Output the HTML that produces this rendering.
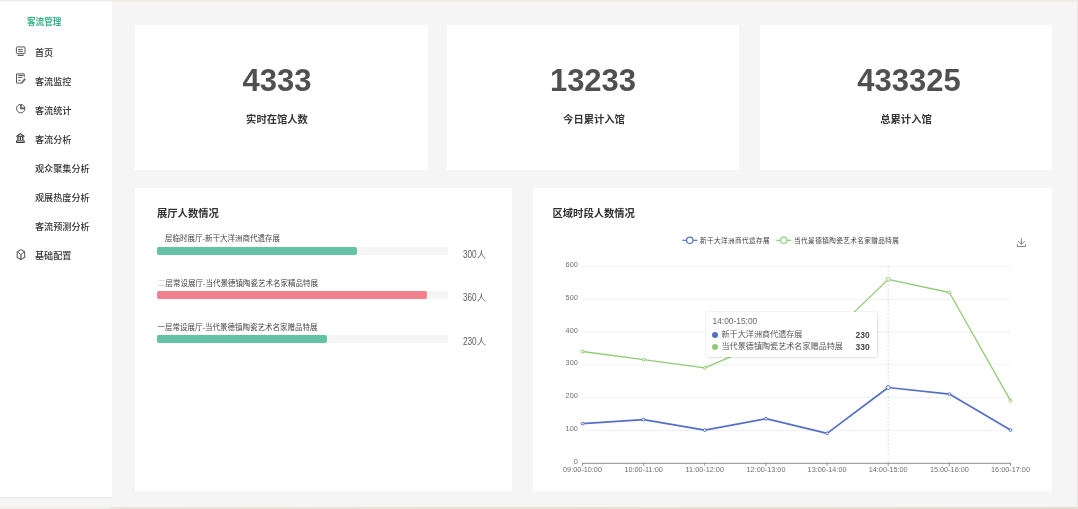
<!DOCTYPE html>
<html lang="zh-CN">
<head>
<meta charset="utf-8">
<title>客流管理</title>
<style>
html,body{margin:0;padding:0}
body{width:1078px;height:509px;overflow:hidden;position:relative;background:#f5f5f5;
font-family:"Liberation Sans","Noto Sans CJK SC",sans-serif;color:#333}
.a{position:absolute;white-space:nowrap}
.strip-top{left:0;top:0;width:1078px;height:1px;background:#f2ebe1}
.strip-bot{left:0;top:507px;width:1078px;height:2px;background:linear-gradient(90deg,#f2f0ea 0,#f2f0ea 110px,#ebe3d7 111px,#e6ddcf 100%)}
.strip-right{left:1077px;top:0;width:1px;height:509px;background:#efe7dc}
.side{left:0;top:2px;width:112px;height:495px;background:#fff;border-bottom:1px solid #e8e8e8}
.card{background:#fff}
.logo{left:27px;top:16px;font-size:8.6px;line-height:12px;color:#36b588;font-weight:bold;letter-spacing:0}
.mi{left:35px;font-size:9.1px;line-height:12px;color:#333;font-weight:500}
.num{font-size:31px;line-height:36px;font-weight:bold;color:#505050;text-align:center}
.lbl{font-size:10.3px;line-height:14px;font-weight:bold;color:#363636;text-align:center}
.ptitle{font-size:10.3px;line-height:14px;font-weight:bold;color:#303030}
.blbl{font-size:7.5px;line-height:10px;color:#444}
.track{background:#f5f5f5;border-radius:2px 0 0 2px;height:8.3px}
.bar{border-radius:2px;height:8.3px}
.bval{font-size:9.3px;line-height:11px;color:#5e5e5e}
.dg{display:inline-block;transform:scale(.88,1.08);transform-origin:0 80%;margin-right:-1.9px}
</style>
</head>
<body>
<div class="a strip-top"></div>
<div class="a strip-right"></div>
<div class="a" style="left:0;top:1px;width:112px;height:1px;background:#f1f2f8"></div>
<div class="a" style="left:112px;top:1px;width:965px;height:1px;background:#eeeeee"></div>
<div class="a strip-bot"></div>

<!-- sidebar -->
<div class="a side"></div>
<div class="a logo">客流管理</div>

<svg class="a" style="left:0;top:0" width="112" height="270" viewBox="0 0 112 270" fill="none" stroke="#5a5a5a" stroke-width="1">
  <!-- monitor -->
  <rect x="16.4" y="46.9" width="8.6" height="6.7" rx="0.8"/>
  <line x1="18.1" y1="49.4" x2="22.8" y2="49.4"/>
  <line x1="18.1" y1="51.4" x2="22.8" y2="51.4"/>
  <path d="M17.6 55.4 H23.6" stroke-width="1.2"/>
  <!-- document -->
  <path d="M24.2 77.2 V73.9 H16.5 V83 H21.2"/>
  <line x1="18.2" y1="75.5" x2="23.3" y2="75.5"/>
  <line x1="18.2" y1="77.5" x2="22.2" y2="77.5"/>
  <line x1="18.2" y1="80.3" x2="20.6" y2="80.3"/>
  <path d="M24.6 78.6 L21.6 82.3 L21.2 83.5 L22.4 83.1 L25.3 79.4 Z" fill="#5a5a5a" stroke-width="0.6"/>
  <!-- pie -->
  <circle cx="20.7" cy="108.6" r="4.2"/>
  <path d="M20.9 104.4 V108.4 H24.9" stroke-width="1.6"/>
  <!-- bank -->
  <g stroke="#383838"><path d="M16.8 136.2 L20.4 133.6 L24.1 136.2 Z" stroke-width="1.1" stroke-linejoin="round"/>
  <line x1="17.9" y1="136.6" x2="17.9" y2="140.2" stroke-width="1.3"/>
  <line x1="20.4" y1="136.6" x2="20.4" y2="140.2" stroke-width="1.3"/>
  <line x1="22.8" y1="136.6" x2="22.8" y2="140.2" stroke-width="1.3"/>
  <rect x="16.6" y="140.9" width="7.6" height="1.6" stroke-width="1"/></g>
  <!-- cube -->
  <path d="M20.9 249.6 L24.6 251.7 L24.8 257.2 L20.9 259.6 L17.1 257.2 L17.2 251.7 Z" stroke-width="1.05" stroke-linejoin="round"/>
  <path d="M17.6 251.9 L20.9 254.6 L24.2 251.9" stroke-width="0.9"/>
  <path d="M20.9 254.6 V259.4" stroke-width="1.3"/>
</svg>

<div class="a mi" style="top:46.5px">首页</div>
<div class="a mi" style="top:75.5px">客流监控</div>
<div class="a mi" style="top:104.5px">客流统计</div>
<div class="a mi" style="top:133.5px">客流分析</div>
<div class="a mi" style="top:162.5px">观众聚集分析</div>
<div class="a mi" style="top:191.5px">观展热度分析</div>
<div class="a mi" style="top:220.5px">客流预测分析</div>
<div class="a mi" style="top:249.5px">基础配置</div>

<!-- stat cards -->
<div class="a card" style="left:135px;top:25px;width:293px;height:145px"></div>
<div class="a card" style="left:447px;top:25px;width:292px;height:145px"></div>
<div class="a card" style="left:760px;top:25px;width:291.5px;height:145px"></div>

<div class="a num" style="left:177px;top:62.7px;width:200px">4333</div>
<div class="a lbl" style="left:177px;top:113.2px;width:200px">实时在馆人数</div>
<div class="a num" style="left:493px;top:62.7px;width:200px">13233</div>
<div class="a lbl" style="left:494px;top:113.2px;width:200px">今日累计入馆</div>
<div class="a num" style="left:809px;top:62.7px;width:200px">433325</div>
<div class="a lbl" style="left:806px;top:113.2px;width:200px">总累计入馆</div>

<!-- bottom panels -->
<div class="a card" style="left:135px;top:188px;width:377px;height:303px"></div>
<div class="a card" style="left:533px;top:188px;width:518.5px;height:303px"></div>

<div class="a ptitle" style="left:157px;top:207.4px">展厅人数情况</div>

<div class="a blbl" style="left:165px;top:233.7px">层临时展厅-新干大洋洲商代遗存展</div>
<div class="a track" style="left:156.5px;top:247px;width:291.7px"></div>
<div class="a bar" style="left:156.5px;top:247px;width:200.5px;background:#64c3a5"></div>
<div class="a bval" style="left:463px;top:250.3px"><span class="dg">300</span>人</div>

<div class="a blbl" style="left:158px;top:278.7px"><span style="color:#bbb">二</span>层常设展厅-当代景德镇陶瓷艺术名家精品特展</div>
<div class="a track" style="left:156.5px;top:291.2px;width:291.7px"></div>
<div class="a bar" style="left:156.5px;top:291.2px;width:270.3px;background:#f2818e"></div>
<div class="a bval" style="left:463px;top:292.9px"><span class="dg">360</span>人</div>

<div class="a blbl" style="left:157.5px;top:322.8px">一层常设展厅-当代景德镇陶瓷艺术名家赠品特展</div>
<div class="a track" style="left:156.5px;top:334.6px;width:291.7px"></div>
<div class="a bar" style="left:156.5px;top:334.6px;width:170.1px;background:#64c3a5"></div>
<div class="a bval" style="left:463px;top:336.6px"><span class="dg">230</span>人</div>

<div class="a ptitle" style="left:552.5px;top:207.4px">区域时段人数情况</div>

<!-- CHART -->
<svg id="chart" class="a" style="left:0;top:0" width="1078" height="509" viewBox="0 0 1078 509">
<line x1="582.5" y1="430.43" x2="1010.5" y2="430.43" stroke="#e3e8f1" stroke-width="0.6"/>
<line x1="582.5" y1="397.66" x2="1010.5" y2="397.66" stroke="#e3e8f1" stroke-width="0.6"/>
<line x1="582.5" y1="364.89" x2="1010.5" y2="364.89" stroke="#e3e8f1" stroke-width="0.6"/>
<line x1="582.5" y1="332.12" x2="1010.5" y2="332.12" stroke="#e3e8f1" stroke-width="0.6"/>
<line x1="582.5" y1="299.35" x2="1010.5" y2="299.35" stroke="#e3e8f1" stroke-width="0.6"/>
<line x1="582.5" y1="266.58" x2="1010.5" y2="266.58" stroke="#e3e8f1" stroke-width="0.6"/>
<text x="577.8" y="463.7" text-anchor="end" font-size="7.3" fill="#6e7079" font-family="Liberation Sans, Noto Sans CJK SC, sans-serif">0</text>
<text x="577.8" y="430.9" text-anchor="end" font-size="7.3" fill="#6e7079" font-family="Liberation Sans, Noto Sans CJK SC, sans-serif">100</text>
<text x="577.8" y="398.2" text-anchor="end" font-size="7.3" fill="#6e7079" font-family="Liberation Sans, Noto Sans CJK SC, sans-serif">200</text>
<text x="577.8" y="365.4" text-anchor="end" font-size="7.3" fill="#6e7079" font-family="Liberation Sans, Noto Sans CJK SC, sans-serif">300</text>
<text x="577.8" y="332.6" text-anchor="end" font-size="7.3" fill="#6e7079" font-family="Liberation Sans, Noto Sans CJK SC, sans-serif">400</text>
<text x="577.8" y="299.8" text-anchor="end" font-size="7.3" fill="#6e7079" font-family="Liberation Sans, Noto Sans CJK SC, sans-serif">500</text>
<text x="577.8" y="267.1" text-anchor="end" font-size="7.3" fill="#6e7079" font-family="Liberation Sans, Noto Sans CJK SC, sans-serif">600</text>
<line x1="888.2" y1="266.3" x2="888.2" y2="462.9" stroke="#c3c8d3" stroke-width="0.7" stroke-dasharray="1.6 2"/>
<line x1="582.5" y1="463.3" x2="1010.5" y2="463.3" stroke="#6e7079" stroke-width="0.8"/>
<line x1="582.5" y1="462.9" x2="582.5" y2="465.9" stroke="#6e7079" stroke-width="0.7"/>
<text x="582.5" y="472.2" text-anchor="middle" font-size="7.3" fill="#6e7079" font-family="Liberation Sans, Noto Sans CJK SC, sans-serif">09:00-10:00</text>
<line x1="643.6" y1="462.9" x2="643.6" y2="465.9" stroke="#6e7079" stroke-width="0.7"/>
<text x="643.6" y="472.2" text-anchor="middle" font-size="7.3" fill="#6e7079" font-family="Liberation Sans, Noto Sans CJK SC, sans-serif">10:00-11:00</text>
<line x1="704.8" y1="462.9" x2="704.8" y2="465.9" stroke="#6e7079" stroke-width="0.7"/>
<text x="704.8" y="472.2" text-anchor="middle" font-size="7.3" fill="#6e7079" font-family="Liberation Sans, Noto Sans CJK SC, sans-serif">11:00-12:00</text>
<line x1="766.0" y1="462.9" x2="766.0" y2="465.9" stroke="#6e7079" stroke-width="0.7"/>
<text x="766.0" y="472.2" text-anchor="middle" font-size="7.3" fill="#6e7079" font-family="Liberation Sans, Noto Sans CJK SC, sans-serif">12:00-13:00</text>
<line x1="827.1" y1="462.9" x2="827.1" y2="465.9" stroke="#6e7079" stroke-width="0.7"/>
<text x="827.1" y="472.2" text-anchor="middle" font-size="7.3" fill="#6e7079" font-family="Liberation Sans, Noto Sans CJK SC, sans-serif">13:00-14:00</text>
<line x1="888.2" y1="462.9" x2="888.2" y2="465.9" stroke="#6e7079" stroke-width="0.7"/>
<text x="888.2" y="472.2" text-anchor="middle" font-size="7.3" fill="#6e7079" font-family="Liberation Sans, Noto Sans CJK SC, sans-serif">14:00-15:00</text>
<line x1="949.4" y1="462.9" x2="949.4" y2="465.9" stroke="#6e7079" stroke-width="0.7"/>
<text x="949.4" y="472.2" text-anchor="middle" font-size="7.3" fill="#6e7079" font-family="Liberation Sans, Noto Sans CJK SC, sans-serif">15:00-16:00</text>
<line x1="1010.5" y1="462.9" x2="1010.5" y2="465.9" stroke="#6e7079" stroke-width="0.7"/>
<text x="1010.5" y="472.2" text-anchor="middle" font-size="7.3" fill="#6e7079" font-family="Liberation Sans, Noto Sans CJK SC, sans-serif">16:00-17:00</text>
<polyline points="582.5,351.5 643.6,359.7 704.8,367.9 766.0,341.7 827.1,338.4 888.2,279.4 949.4,292.5 1010.5,400.6" fill="none" stroke="#91cc75" stroke-width="1.3" stroke-linejoin="round"/>
<circle cx="582.5" cy="351.5" r="1.4" fill="#fff" stroke="#91cc75" stroke-width="1"/>
<circle cx="643.6" cy="359.7" r="1.4" fill="#fff" stroke="#91cc75" stroke-width="1"/>
<circle cx="704.8" cy="367.9" r="1.4" fill="#fff" stroke="#91cc75" stroke-width="1"/>
<circle cx="766.0" cy="341.7" r="1.4" fill="#fff" stroke="#91cc75" stroke-width="1"/>
<circle cx="827.1" cy="338.4" r="1.4" fill="#fff" stroke="#91cc75" stroke-width="1"/>
<circle cx="888.2" cy="279.4" r="2.0" fill="#fff" stroke="#91cc75" stroke-width="1"/>
<circle cx="949.4" cy="292.5" r="1.4" fill="#fff" stroke="#91cc75" stroke-width="1"/>
<circle cx="1010.5" cy="400.6" r="1.4" fill="#fff" stroke="#91cc75" stroke-width="1"/>
<polyline points="582.5,423.6 643.6,419.6 704.8,430.1 766.0,418.7 827.1,433.4 888.2,387.5 949.4,394.1 1010.5,430.1" fill="none" stroke="#5470c6" stroke-width="1.7" stroke-linejoin="round"/>
<circle cx="582.5" cy="423.6" r="1.4" fill="#fff" stroke="#5470c6" stroke-width="1"/>
<circle cx="643.6" cy="419.6" r="1.4" fill="#fff" stroke="#5470c6" stroke-width="1"/>
<circle cx="704.8" cy="430.1" r="1.4" fill="#fff" stroke="#5470c6" stroke-width="1"/>
<circle cx="766.0" cy="418.7" r="1.4" fill="#fff" stroke="#5470c6" stroke-width="1"/>
<circle cx="827.1" cy="433.4" r="1.4" fill="#fff" stroke="#5470c6" stroke-width="1"/>
<circle cx="888.2" cy="387.5" r="2.0" fill="#fff" stroke="#5470c6" stroke-width="1"/>
<circle cx="949.4" cy="394.1" r="1.4" fill="#fff" stroke="#5470c6" stroke-width="1"/>
<circle cx="1010.5" cy="430.1" r="1.4" fill="#fff" stroke="#5470c6" stroke-width="1"/>
<line x1="682.3" y1="240.3" x2="697.3" y2="240.3" stroke="#5470c6" stroke-width="1.2"/>
<circle cx="689.8" cy="240.3" r="3.2" fill="#fff" stroke="#5470c6" stroke-width="1.2"/>
<text x="700" y="242.8" font-size="6.6" letter-spacing="0.42" fill="#3a3a3a" font-family="Liberation Sans, Noto Sans CJK SC, sans-serif">新干大洋洲商代遗存展</text>
<line x1="776.3" y1="240.3" x2="791.3" y2="240.3" stroke="#91cc75" stroke-width="1.2"/>
<circle cx="783.8" cy="240.3" r="3.2" fill="#fff" stroke="#91cc75" stroke-width="1.2"/>
<text x="794.1" y="242.8" font-size="6.6" letter-spacing="0.42" fill="#3a3a3a" font-family="Liberation Sans, Noto Sans CJK SC, sans-serif">当代景德镇陶瓷艺术名家赠品特展</text>
<g fill="none" stroke="#666" stroke-width="0.8"><path d="M1021.4 238.2 V244.3 M1018 241.2 L1021.4 244.3 L1024.8 241.2 M1017.3 244.2 V246.5 H1025.5 V244.2"/></g>
</svg>

<!-- tooltip -->
<div class="a" style="left:705.5px;top:311.5px;width:171.5px;height:45.5px;background:#fff;border-radius:2.5px;box-shadow:0 0 0 0.6px rgba(0,0,0,0.07),1px 1px 3px rgba(0,0,0,0.09)"></div>
<div class="a" style="left:712.5px;top:316px;font-size:8.4px;line-height:10px;color:#666">14:00-15:00</div>
<div class="a" style="left:712px;top:331.8px;width:6px;height:6px;border-radius:3px;background:#5470c6"></div>
<div class="a" style="left:721.5px;top:329.5px;font-size:8.1px;line-height:10px;color:#555">新干大洋洲商代遗存展</div>
<div class="a" style="left:855.5px;top:329.5px;font-size:8.5px;line-height:10px;color:#464646;font-weight:bold">230</div>
<div class="a" style="left:712px;top:344.2px;width:6px;height:6px;border-radius:3px;background:#91cc75"></div>
<div class="a" style="left:721.5px;top:341.9px;font-size:8.1px;line-height:10px;color:#555">当代景德镇陶瓷艺术名家赠品特展</div>
<div class="a" style="left:855.5px;top:341.9px;font-size:8.5px;line-height:10px;color:#464646;font-weight:bold">330</div>

</body>
</html>
